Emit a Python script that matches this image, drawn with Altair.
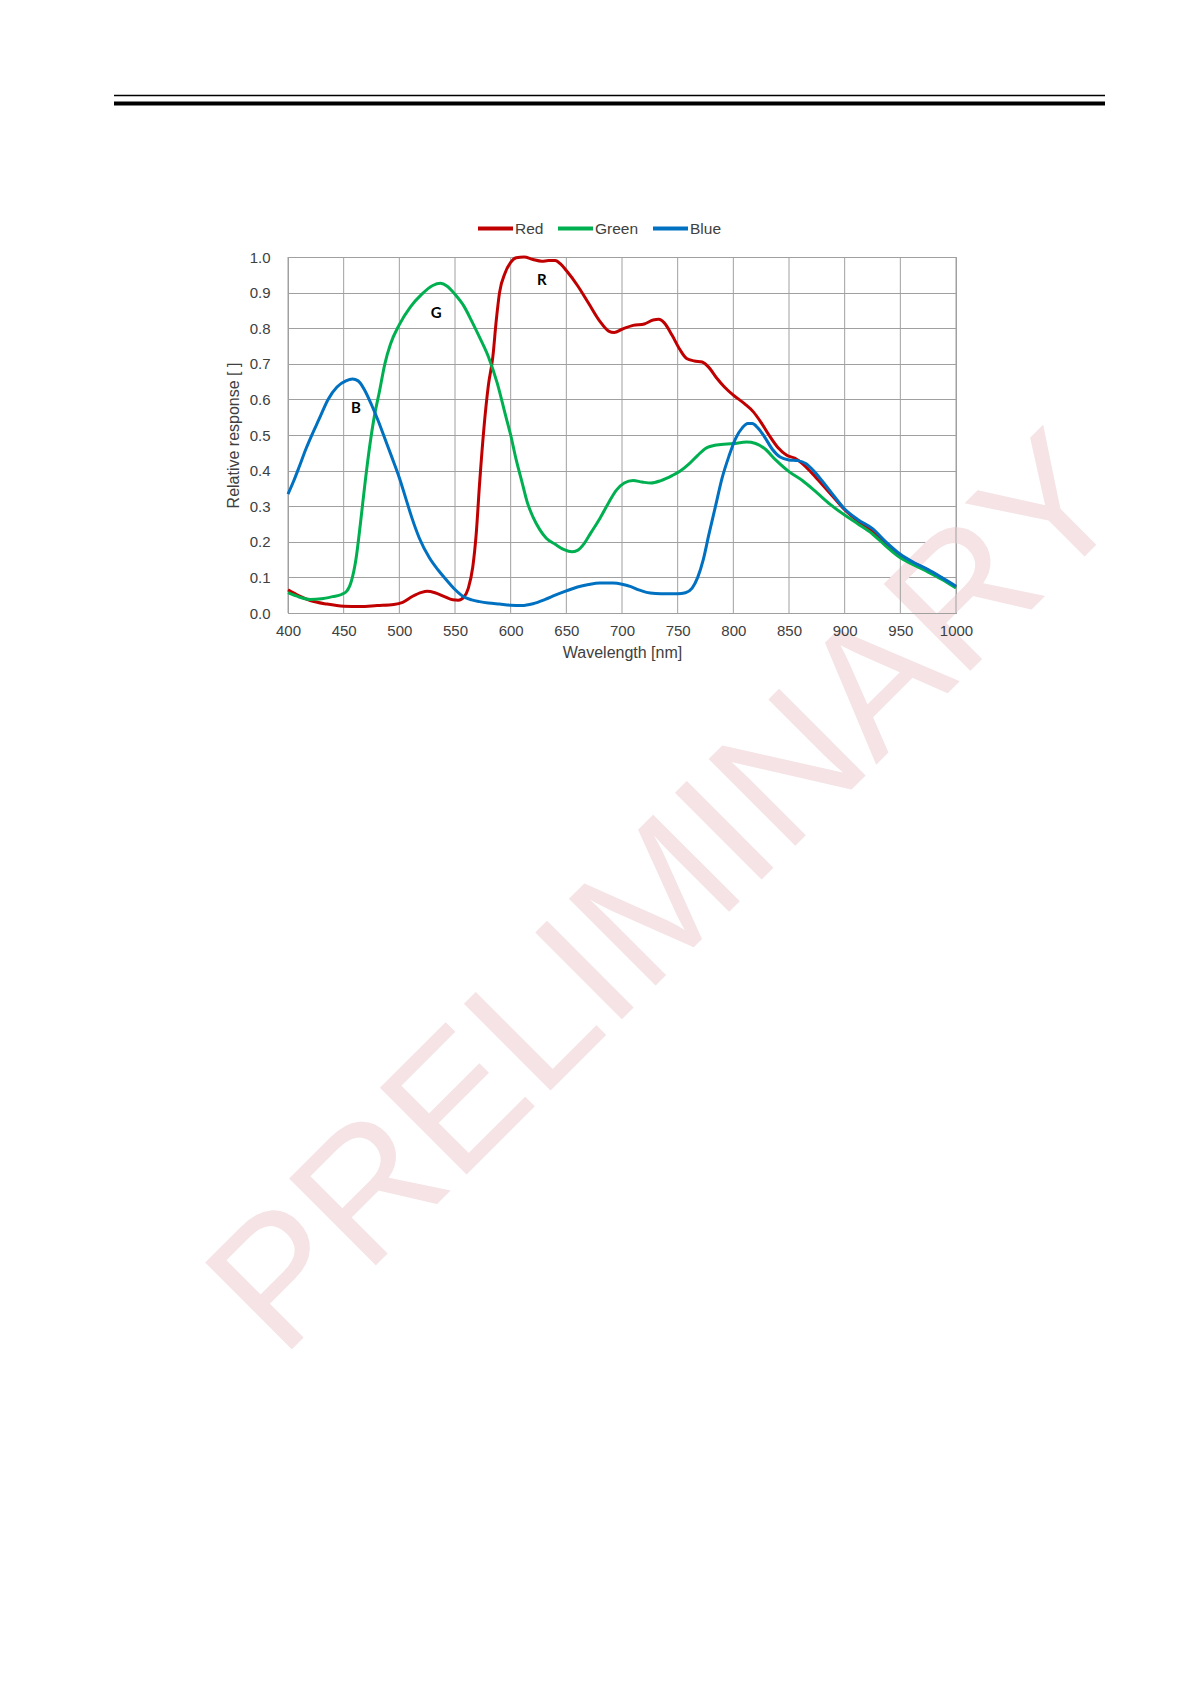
import altair as alt
import pandas as pd

# ---------------- data ----------------
series_names = ["Red", "Green", "Blue"]
series_colors = ["#c00000", "#00b050", "#0070c0"]

red_nm = [400, 410, 420, 435, 450, 465, 480, 495, 503, 512, 520, 525, 532, 540, 548, 553, 558, 562,
          566, 569, 572, 576, 580, 584, 587, 590, 595, 600, 605, 612, 620, 628, 634, 640, 645, 650,
          660, 670, 680, 688, 693, 700, 710, 720, 728, 733, 738, 745, 752, 758, 765, 772, 778, 785,
          792, 800, 810, 818, 825, 832, 840, 848, 855, 862, 870, 880, 890, 900, 912, 925, 937, 950,
          962, 975, 987, 1000]
red_val = [0.065, 0.048, 0.035, 0.025, 0.019, 0.018, 0.021, 0.024, 0.030, 0.047, 0.058, 0.061, 0.057,
           0.047, 0.037, 0.036, 0.045, 0.070, 0.130, 0.220, 0.360, 0.520, 0.640, 0.720, 0.820, 0.900,
           0.955, 0.985, 0.998, 1.000, 0.993, 0.988, 0.990, 0.990, 0.980, 0.962, 0.920, 0.870, 0.820,
           0.792, 0.788, 0.797, 0.808, 0.812, 0.823, 0.825, 0.815, 0.780, 0.740, 0.715, 0.708, 0.705,
           0.690, 0.660, 0.635, 0.612, 0.588, 0.565, 0.535, 0.500, 0.465, 0.443, 0.435, 0.420, 0.395,
           0.360, 0.325, 0.290, 0.258, 0.230, 0.195, 0.160, 0.140, 0.120, 0.098, 0.073]

green_nm = [400, 410, 420, 430, 440, 448, 453, 457, 461, 465, 469, 473, 478, 482, 487, 492, 500, 510,
            520, 530, 537, 543, 550, 558, 565, 572, 580, 588, 595, 600, 605, 610, 615, 620, 626, 632,
            640, 648, 655, 660, 666, 672, 680, 688, 695, 702, 710, 718, 726, 735, 745, 752, 760, 768,
            775, 785, 800, 812, 820, 828, 838, 850, 862, 875, 887, 900, 912, 925, 937, 950, 962, 975,
            987, 1000]
green_val = [0.057, 0.045, 0.038, 0.040, 0.046, 0.052, 0.062, 0.090, 0.150, 0.250, 0.360, 0.460, 0.560,
             0.620, 0.700, 0.755, 0.810, 0.860, 0.895, 0.920, 0.926, 0.918, 0.895, 0.862, 0.820, 0.775,
             0.720, 0.645, 0.560, 0.500, 0.430, 0.370, 0.310, 0.270, 0.235, 0.210, 0.193, 0.178, 0.172,
             0.176, 0.195, 0.225, 0.265, 0.310, 0.345, 0.365, 0.372, 0.368, 0.365, 0.372, 0.386, 0.398,
             0.418, 0.443, 0.462, 0.472, 0.476, 0.480, 0.476, 0.462, 0.430, 0.397, 0.372, 0.338, 0.305,
             0.275, 0.250, 0.222, 0.188, 0.155, 0.135, 0.115, 0.095, 0.070]

blue_nm = [400, 405, 410, 416, 421, 428, 436, 444, 452, 458, 463, 469, 475, 481, 487, 493, 500, 506,
           511, 518, 527, 535, 542, 550, 557, 565, 572, 580, 590, 600, 610, 620, 631, 640, 650, 660,
           670, 680, 692, 700, 708, 715, 722, 730, 740, 750, 757, 763, 768, 773, 778, 784, 790, 796,
           802, 808, 813, 817, 822, 828, 835, 842, 850, 858, 865, 872, 880, 890, 900, 912, 925, 937,
           950, 962, 975, 987, 1000]
blue_val = [0.334, 0.370, 0.410, 0.460, 0.497, 0.545, 0.600, 0.635, 0.652, 0.657, 0.652, 0.625, 0.585,
            0.540, 0.490, 0.440, 0.380, 0.320, 0.270, 0.210, 0.155, 0.120, 0.094, 0.066, 0.047, 0.037,
            0.032, 0.028, 0.025, 0.022, 0.021, 0.026, 0.038, 0.050, 0.062, 0.073, 0.080, 0.084, 0.084,
            0.081, 0.074, 0.065, 0.058, 0.055, 0.054, 0.054, 0.057, 0.070, 0.100, 0.150, 0.220, 0.300,
            0.380, 0.440, 0.490, 0.520, 0.532, 0.532, 0.520, 0.495, 0.460, 0.438, 0.430, 0.428, 0.420,
            0.400, 0.370, 0.330, 0.292, 0.262, 0.237, 0.200, 0.165, 0.142, 0.122, 0.100, 0.075]

curve_labels = ["R", "G", "B"]
curve_label_nm = [628, 533, 461]
curve_label_val = [0.936, 0.842, 0.575]

x_ticks = [400, 450, 500, 550, 600, 650, 700, 750, 800, 850, 900, 950, 1000]
y_ticks = [0.0, 0.1, 0.2, 0.3, 0.4, 0.5, 0.6, 0.7, 0.8, 0.9, 1.0]
x_title = "Wavelength [nm]"
y_title = "Relative response [ ]"
watermark_text = "PRELIMINARY"

# ---------------- tables ----------------
rows = []
for name, nms, vals in [("Red", red_nm, red_val), ("Green", green_nm, green_val), ("Blue", blue_nm, blue_val)]:
    for n, v in zip(nms, vals):
        rows.append({"series": name, "nm": n, "value": v})
df = pd.DataFrame(rows)
lab_df = pd.DataFrame({"t": curve_labels, "nm": curve_label_nm, "value": curve_label_val})
wm_df = pd.DataFrame({"t": [watermark_text]})
xgrid_df = pd.DataFrame({"nm": x_ticks})
one = pd.DataFrame({"k": [0]})

FONT = "Liberation Sans"
TXT = "#404040"
GRID = "#a0a0a0"

x_scale = alt.Scale(domain=[400, 1000], nice=False)
y_scale = alt.Scale(domain=[0, 1], nice=False)

# x axis drawn above the watermark; its vertical grid lines are drawn as a rule layer below the curves
x_axis = alt.Axis(title=x_title, values=x_ticks, format="d", grid=False, ticks=False, zindex=1,
                  labelFlush=False, labelOverlap=False, labelPadding=10, titlePadding=6)
y_axis = alt.Axis(title=y_title, values=y_ticks, format=".1f", grid=True, ticks=False,
                  labelFlush=False, labelOverlap=False, labelPadding=18, titlePadding=8)
x_enc = alt.X("nm:Q", scale=x_scale, axis=x_axis)
y_enc = alt.Y("value:Q", scale=y_scale, axis=y_axis)
color_enc = alt.Color("series:N",
                      scale=alt.Scale(domain=series_names, range=series_colors),
                      legend=alt.Legend(title=None, orient="none", direction="horizontal",
                                        legendX=188, legendY=-48,
                                        symbolType="stroke", symbolSize=1225,
                                        symbolStrokeWidth=4, labelOffset=0,
                                        columnPadding=6, padding=0,
                                        labelFont=FONT, labelFontSize=15.5, labelColor=TXT))

watermark = alt.Chart(wm_df).mark_text(
    font="Liberation Sans", fontSize=178, color="#f5e3e5", angle=315,
    align="center", baseline="alphabetic"
).encode(text="t:N", x=alt.value(419), y=alt.value(677))

xgrid = alt.Chart(xgrid_df).mark_rule(color=GRID, strokeWidth=1).encode(x=x_enc)

thin_rule = alt.Chart(one).mark_rule(color="black", strokeWidth=1.5).encode(
    x=alt.value(-174), x2=alt.value(817), y=alt.value(-161.5))
thick_rule = alt.Chart(one).mark_rule(color="black", strokeWidth=4).encode(
    x=alt.value(-174), x2=alt.value(817), y=alt.value(-153.5))

layers = [watermark, xgrid, thin_rule, thick_rule]
for s in series_names:
    layers.append(
        alt.Chart(df).transform_filter(alt.datum.series == s)
        .mark_line(strokeWidth=3, interpolate="monotone")
        .encode(x=x_enc, y=y_enc, color=color_enc)
    )

labels = alt.Chart(lab_df).mark_text(
    font="Lato", fontWeight="bold", fontSize=15, color="black"
).encode(x=x_enc, y=y_enc, text="t:N")
layers.append(labels)

chart = alt.layer(*layers).properties(
    width=668, height=356,
    padding={"left": 280, "top": 249, "right": 200, "bottom": 900},
    autosize=alt.AutoSizeParams(type="none"),
    background="white",
).configure_view(
    stroke=GRID, strokeWidth=1
).configure_axis(
    gridColor=GRID, gridWidth=1, domainColor=GRID, domainWidth=1,
    labelFont=FONT, labelFontSize=15, labelColor=TXT,
    titleFont=FONT, titleFontSize=16, titleFontWeight="normal", titleColor=TXT,
)

chart.save("out.html", embed_options={"renderer": "svg", "actions": False})
